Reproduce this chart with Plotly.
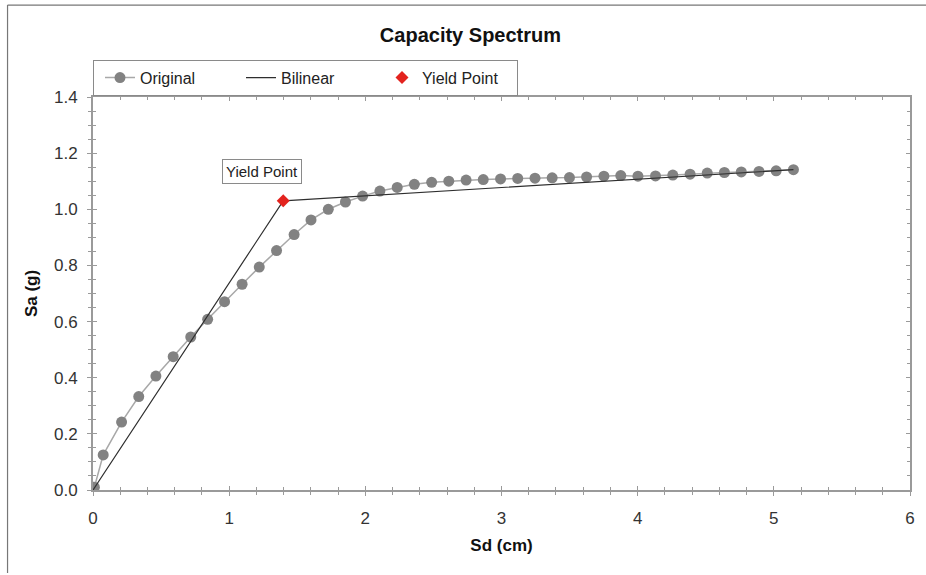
import plotly.graph_objects as go

# Original capacity curve
sd_orig = [0.01, 0.075, 0.21, 0.336, 0.462, 0.589, 0.718, 0.842, 0.966, 1.095, 1.221,
           1.348, 1.477, 1.601, 1.728, 1.854, 1.98, 2.107, 2.234, 2.36, 2.487, 2.613,
           2.74, 2.866, 2.993, 3.119, 3.246, 3.372, 3.499, 3.625, 3.752, 3.876, 4.002,
           4.131, 4.258, 4.385, 4.511, 4.637, 4.761, 4.891, 5.017, 5.144]
sa_orig = [0.01, 0.125, 0.242, 0.333, 0.406, 0.475, 0.545, 0.608, 0.671, 0.733, 0.794,
           0.853, 0.910, 0.962, 1.0, 1.026, 1.047, 1.065, 1.078, 1.089, 1.096, 1.100,
           1.104, 1.106, 1.108, 1.110, 1.111, 1.112, 1.113, 1.115, 1.118, 1.120, 1.118,
           1.119, 1.122, 1.125, 1.129, 1.131, 1.133, 1.135, 1.137, 1.141]

# Bilinear approximation
sd_bil = [0.0, 1.397, 5.144]
sa_bil = [0.0, 1.030, 1.141]

# Yield point
sd_yield = [1.397]
sa_yield = [1.030]

FONT = "Arial, Liberation Sans, sans-serif"
AXC = "#9a9a9a"

fig = go.Figure()
fig.add_trace(go.Scatter(x=sd_orig, y=sa_orig, mode="lines+markers", name="Original",
                         line=dict(color="#a8a8a8", width=1.5),
                         marker=dict(color="#828282", size=11)))
fig.add_trace(go.Scatter(x=sd_bil, y=sa_bil, mode="lines", name="Bilinear",
                         line=dict(color="#2e2e2e", width=1.2)))
fig.add_trace(go.Scatter(x=sd_yield, y=sa_yield, mode="markers", name="Yield Point",
                         marker=dict(color="#e3231e", size=10, symbol="diamond")))
# invisible trace to activate secondary axes (outside tick halves)
fig.add_trace(go.Scatter(x=[None], y=[None], xaxis="x2", yaxis="y2", showlegend=False,
                         hoverinfo="skip"))

common = dict(showgrid=False, zeroline=False, showline=True, linecolor=AXC, linewidth=2,
              tickcolor=AXC, tickwidth=1)

fig.update_layout(
    width=926, height=575,
    margin=dict(l=93, r=11, t=97, b=85),
    paper_bgcolor="white", plot_bgcolor="white",
    font=dict(family=FONT, color="#222"),
    title=dict(text="<b>Capacity Spectrum</b>", x=0.462, xref="paper", y=0.94,
               xanchor="center", yanchor="middle", font=dict(size=20, color="#111")),
    xaxis=dict(range=[0, 6], dtick=1, ticks="inside", ticklen=4, mirror="allticks",
               minor=dict(dtick=0.2, ticks="inside", ticklen=3, tickcolor=AXC),
               tickfont=dict(size=17, color="#333"), ticklabelstandoff=12,
               title=dict(text="<b>Sd (cm)</b>", font=dict(size=17, color="#111"), standoff=12),
               **common),
    yaxis=dict(range=[0, 1.4], dtick=0.2, tickformat=".1f", ticks="inside", ticklen=4,
               mirror="allticks",
               minor=dict(dtick=0.05, ticks="inside", ticklen=3, tickcolor=AXC),
               tickfont=dict(size=17, color="#333"), ticklabelstandoff=10,
               title=dict(text="<b>Sa (g)</b>", font=dict(size=17, color="#111"), standoff=12),
               **common),
    xaxis2=dict(range=[0, 6], dtick=1, overlaying="x", side="bottom", ticks="outside",
                ticklen=4, showticklabels=False,
                minor=dict(dtick=0.2, ticks="outside", ticklen=3, tickcolor=AXC),
                **common),
    yaxis2=dict(range=[0, 1.4], dtick=0.2, overlaying="y", side="left", ticks="outside",
                ticklen=4, showticklabels=False,
                minor=dict(dtick=0.05, ticks="outside", ticklen=3, tickcolor=AXC),
                **common),
    legend=dict(orientation="h", x=0.0, y=1.095, xanchor="left", yanchor="top",
                bordercolor="#8a8a8a", borderwidth=1, bgcolor="white",
                font=dict(size=16, color="#222", family=FONT),
                entrywidth=90, indentation=6, traceorder="normal"),
    annotations=[dict(x=1.24, y=1.134, xref="x", yref="y", text="Yield Point",
                      showarrow=False, bordercolor="#8a8a8a", borderwidth=1,
                      bgcolor="white", borderpad=3,
                      font=dict(size=15, color="#222", family=FONT))],
    shapes=[
        dict(type="line", xref="paper", yref="paper", x0=-0.1046, x1=1.02, y0=1.234, y1=1.234,
             line=dict(color="#777", width=1.2)),
        dict(type="line", xref="paper", yref="paper", x0=-0.1046, x1=-0.1046, y0=1.234, y1=-0.211,
             line=dict(color="#777", width=1.2)),
    ],
)

fig.write_html("out.html")
